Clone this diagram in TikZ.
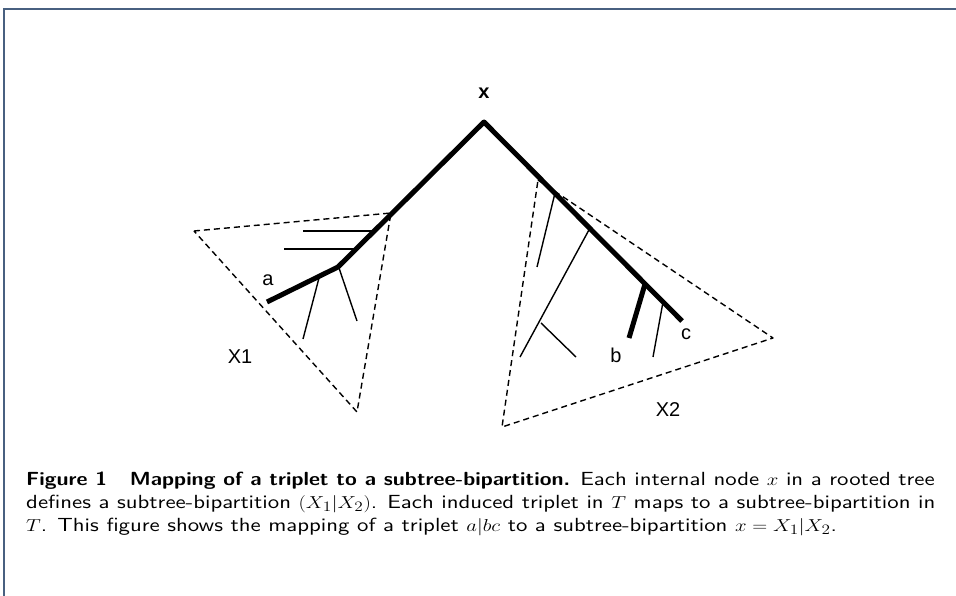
\documentclass[tikz,border=0pt]{standalone}
\usepackage{fontspec}
\newfontfamily\arialfont{Liberation Sans}
\newfontfamily\capfont{lmsans10-regular.otf}[BoldFont=lmsans10-bold.otf,BoldFeatures={FakeStretch=0.94}]
\definecolor{framecol}{RGB}{72,96,128}

\begin{document}
\begin{tikzpicture}[x=1pt,y=-1pt,
  thickbr/.style={line width=5pt,line join=round},
  thinbr/.style={line width=1.4pt},
  tri/.style={line width=1.4pt,dash pattern=on 6pt off 4pt,line join=round},
  lbl/.style={font=\arialfont\fontsize{20}{24}\selectfont}]
  \useasboundingbox (0,0) rectangle (956,596);

  \draw[framecol,line width=2pt] (4,596) -- (4,9) -- (956,9);

  \coordinate (root) at (484,122);
  \coordinate (ua) at (338,267);
  \coordinate (leafa) at (267,302);
  \coordinate (leafc) at (682,321);
  \coordinate (h1) at (374,231);
  \coordinate (h2) at (356,249);
  \coordinate (ub) at (645,284);
  \coordinate (r1) at (555,193);
  \coordinate (r2) at (590,228);
  \coordinate (r3) at (663,302);
  \coordinate (r2low) at (541,323);

  \node[lbl,font=\arialfont\bfseries\fontsize{20}{24}\selectfont] (xlbl) at (484,93) {x};
  \node[lbl] (albl) at (268,280) {a};
  \node[lbl] (blbl) at (616,355) {b};
  \node[lbl] (clbl) at (686,334) {c};
  \node[lbl] (xonelbl) at (240,357) {X1};
  \node[lbl] (xtwolbl) at (668,410) {X2};

  \draw[tri] (194,231) -- (391,213) -- (357,412) -- cycle;
  \draw[tri] (538,180) -- (773,338) -- (502,427) -- cycle;

  \draw[thinbr] (h1) -- (303,231);
  \draw[thinbr] (h2) -- (284,249);
  \draw[thinbr] (319,278) -- (303,339);
  \draw[thinbr] (339,268) -- (357,321);

  \draw[thinbr] (r1) -- (537,267);
  \draw[thinbr] (r2) -- (520,357);
  \draw[thinbr] (r2low) -- (576,357);
  \draw[thinbr] (r3) -- (653,357);
  \draw[thickbr] (ub) -- (629,338);

  \draw[thickbr] (leafa) -- (ua) -- (root) -- (leafc);

  \node[anchor=base west,align=left,inner sep=0pt,xscale=1.2,transform shape,
    font=\capfont\fontsize{19}{23}\selectfont] (caption) at (26,531)
    {\textbf{Figure 1\quad Mapping of a triplet to a subtree-bipartition.} Each internal node $x$ in a rooted tree\\
     defines a subtree-bipartition $(X_1|X_2)$. Each induced triplet in $T$ maps to a subtree-bipartition in\\
     $T$. This figure shows the mapping of a triplet $a|bc$ to a subtree-bipartition $x=X_1|X_2$.};
\end{tikzpicture}
\end{document}
